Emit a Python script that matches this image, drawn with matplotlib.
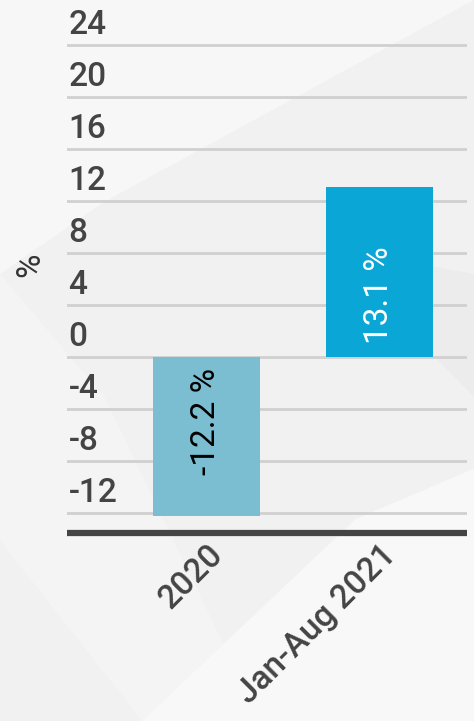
import matplotlib
matplotlib.use("Agg")
import matplotlib.pyplot as plt
from matplotlib.patches import Polygon
import matplotlib.transforms as mtransforms

plt.rcParams['font.family'] = ['Roboto', 'DejaVu Sans']

# growth figures
periods = ['2020', 'Jan-Aug 2021']
growth = [-12.2, 13.1]
bar_colors = ['#7bbdd1', '#0aa6d5']
label_colors = ['black', 'white']
yticks = [-12, -8, -4, 0, 4, 8, 12, 16, 20, 24]

fig = plt.figure(figsize=(4.74, 7.21), dpi=100)
fig.patch.set_facecolor('#f1f1f1')

# faint faceted background
facets = [
    ([(0, 0.93), (0.0, 0.62), (0.22, 0.72), (1.0, 1.0), (0.0, 1.0)], '#f7f7f7'),
    ([(0.0, 0.62), (0.0, 0.25), (0.30, 0.0), (0.55, 0.0), (0.22, 0.45)], '#f4f4f4'),
    ([(0.30, 0.0), (1.0, 0.0), (1.0, 0.35), (0.75, 0.28)], '#f8f8f8'),
    ([(0.75, 0.65), (1.0, 0.62), (1.0, 0.45), (0.85, 0.55)], '#ececec'),
]
for pts, c in facets:
    fig.patches.append(Polygon(pts, closed=True, transform=fig.transFigure,
                               facecolor=c, edgecolor='none', zorder=-5))

ax = fig.add_axes([0.1414, 0.2608, 0.8438, 0.7392])
ax.set_facecolor('none')

x = range(len(periods))
ax.bar(x, growth, width=0.62, color=bar_colors, zorder=3)

ax.set_xlim(-0.806, 1.506)
ax.set_ylim(-13.54, 27.46)

# gridlines with labels sitting on top of them
for v in yticks:
    ax.axhline(v, color='#d0d0d0', linewidth=2, zorder=1)
lab_off = mtransforms.offset_copy(ax.get_yaxis_transform(), fig=fig, x=1, y=8, units='points')
for v in yticks:
    ax.text(0.0, v, str(v), transform=lab_off, ha='left', va='baseline',
            fontsize=24, color='#444444', fontweight='medium')

# value labels near the base of each bar
for xi, v, c in zip(x, growth, label_colors):
    if v >= 0:
        off = mtransforms.offset_copy(ax.transData, fig=fig, y=9, units='points')
        ha = 'left'
    else:
        off = mtransforms.offset_copy(ax.transData, fig=fig, y=-8, units='points')
        ha = 'right'
    ax.text(xi, 0, f'{v} %', transform=off, rotation=90, rotation_mode='anchor',
            ha=ha, va='center', fontsize=24, color=c)

ax.set_yticks([])
ax.set_xticks(list(x))
ax.set_xticklabels(periods, rotation=45, ha='right', va='top', rotation_mode='anchor',
                   fontsize=24, color='#444444', fontweight='medium')
ax.tick_params(axis='x', length=0, pad=4)

for s in ['top', 'right', 'left']:
    ax.spines[s].set_visible(False)
ax.spines['bottom'].set_color('#444444')
ax.spines['bottom'].set_linewidth(4.5)
ax.spines['bottom'].set_capstyle('butt')

fig.text(30 / 474, 1 - 265 / 721, '%', rotation=90, ha='center', va='center',
         fontsize=24, color='#333333')

fig.savefig('out.png', dpi=100, facecolor=fig.get_facecolor())
